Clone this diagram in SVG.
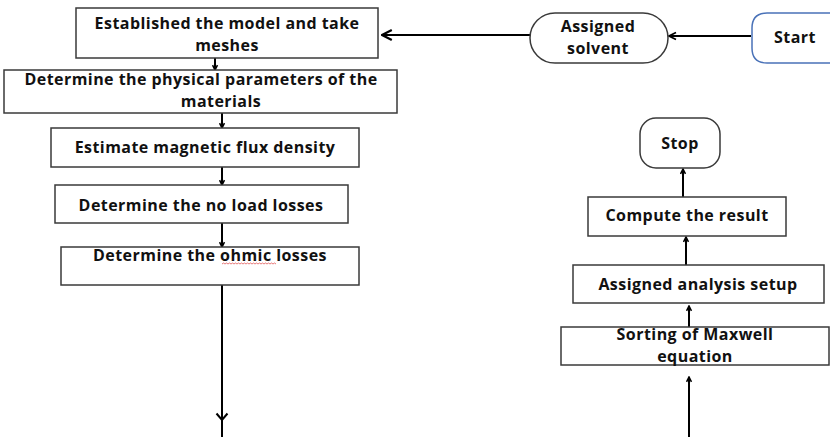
<svg xmlns="http://www.w3.org/2000/svg" width="830" height="437" viewBox="0 0 830 437">
<style>
.box{fill:#fff;stroke:#3a3a3a;stroke-width:1.5}
.t{font-family:"Open Sans","Liberation Sans",sans-serif;font-weight:bold;font-size:16px;letter-spacing:0.45px;fill:#111;text-anchor:middle}
.c{fill:none;stroke:#000;stroke-width:2}
</style>
<defs>
<marker id="ah" viewBox="0 0 10 10" refX="9" refY="5" markerWidth="7" markerHeight="7" orient="auto" markerUnits="userSpaceOnUse">
<path d="M2,1.5 L9,5 L2,8.5" fill="none" stroke="#000" stroke-width="2.2"/>
</marker>
<marker id="ahb" viewBox="0 0 10 10" refX="9" refY="5" markerWidth="14" markerHeight="14" orient="auto" markerUnits="userSpaceOnUse">
<path d="M2,1.5 L9,5 L2,8.5" fill="none" stroke="#000" stroke-width="1.6"/>
</marker>
<marker id="ahm" viewBox="0 0 10 10" refX="9" refY="5" markerWidth="10" markerHeight="10" orient="auto" markerUnits="userSpaceOnUse">
<path d="M2,1.5 L9,5 L2,8.5" fill="none" stroke="#000" stroke-width="1.8"/>
</marker>
</defs>
<rect width="830" height="437" fill="#fff"/>
<g id="connectors">
<line class="c" x1="751" y1="36" x2="669" y2="36" marker-end="url(#ahm)" stroke-width="1.8"/>
<line class="c" x1="530" y1="35" x2="382" y2="35" marker-end="url(#ahb)" stroke-width="2.5"/>
<line class="c" x1="215" y1="58" x2="215" y2="70" marker-end="url(#ah)"/>
<line class="c" x1="222" y1="113" x2="222" y2="128" marker-end="url(#ah)"/>
<line class="c" x1="222" y1="167" x2="222" y2="185" marker-end="url(#ah)"/>
<line class="c" x1="222" y1="223" x2="222" y2="247" marker-end="url(#ah)"/>
<line class="c" x1="222" y1="285" x2="222" y2="437"/>
<path class="c" d="M216.5,413.5 L222,420 L227.5,413.5"/>
<line class="c" x1="689" y1="437" x2="689" y2="377" marker-end="url(#ah)"/>
<line class="c" x1="689" y1="327" x2="689" y2="306" marker-end="url(#ah)"/>
<line class="c" x1="686" y1="265" x2="686" y2="237" marker-end="url(#ah)"/>
<line class="c" x1="683" y1="197" x2="683" y2="169" marker-end="url(#ah)"/>
</g>
<g id="start">
<path d="M767,13 L840,13 L840,63 L767,63 Q752,63 752,48 L752,28 Q752,13 767,13 Z" fill="#fff" stroke="#4a72b8" stroke-width="1.5"/>
<text class="t" x="774" y="43" style="text-anchor:start">Start</text>
</g>
<g id="assigned-solvent">
<rect class="box" x="530" y="13" width="138" height="50" rx="25" ry="25"/>
<text class="t" x="598" y="32">Assigned</text>
<text class="t" x="598" y="54">solvent</text>
</g>
<g id="established-model">
<rect class="box" x="76" y="8" width="302" height="50"/>
<text class="t" x="227" y="29">Established the model and take</text>
<text class="t" x="227" y="51">meshes</text>
</g>
<g id="physical-parameters">
<rect class="box" x="4" y="70" width="393" height="43"/>
<text class="t" x="201" y="85">Determine the physical parameters of the</text>
<text class="t" x="221" y="107">materials</text>
</g>
<g id="flux-density">
<rect class="box" x="51" y="128" width="308" height="39"/>
<text class="t" x="205" y="153">Estimate magnetic flux density</text>
</g>
<g id="no-load-losses">
<rect class="box" x="55" y="185" width="293" height="38"/>
<text class="t" x="201" y="211">Determine the no load losses</text>
</g>
<g id="ohmic-losses">
<rect class="box" x="61" y="247" width="298" height="38"/>
<text class="t" x="210" y="261">Determine the ohmic losses</text>
<path d="M222,264 l1.5,-1 l1.5,1 l1.5,-1 l1.5,1 l1.5,-1 l1.5,1 l1.5,-1 l1.5,1 l1.5,-1 l1.5,1 l1.5,-1 l1.5,1 l1.5,-1 l1.5,1 l1.5,-1 l1.5,1 l1.5,-1 l1.5,1 l1.5,-1 l1.5,1 l1.5,-1 l1.5,1 l1.5,-1 l1.5,1 l1.5,-1 l1.5,1 l1.5,-1 l1.5,1 l1.5,-1 l1.5,1 l1.5,-1 l1.5,1 l1.5,-1 l1.5,1 l1.5,-1 l1.5,1" fill="none" stroke="#e04040" stroke-width="0.7"/>
</g>
<g id="stop">
<rect class="box" x="640" y="118" width="80" height="50" rx="16" ry="16"/>
<text class="t" x="680" y="149">Stop</text>
</g>
<g id="compute-result">
<rect class="box" x="588" y="197" width="198" height="39"/>
<text class="t" x="687" y="221">Compute the result</text>
</g>
<g id="analysis-setup">
<rect class="box" x="573" y="265" width="251" height="38"/>
<text class="t" x="698" y="290">Assigned analysis setup</text>
</g>
<g id="maxwell">
<rect class="box" x="561" y="327" width="268" height="38"/>
<text class="t" x="695" y="340">Sorting of Maxwell</text>
<text class="t" x="695" y="362">equation</text>
</g>
</svg>
